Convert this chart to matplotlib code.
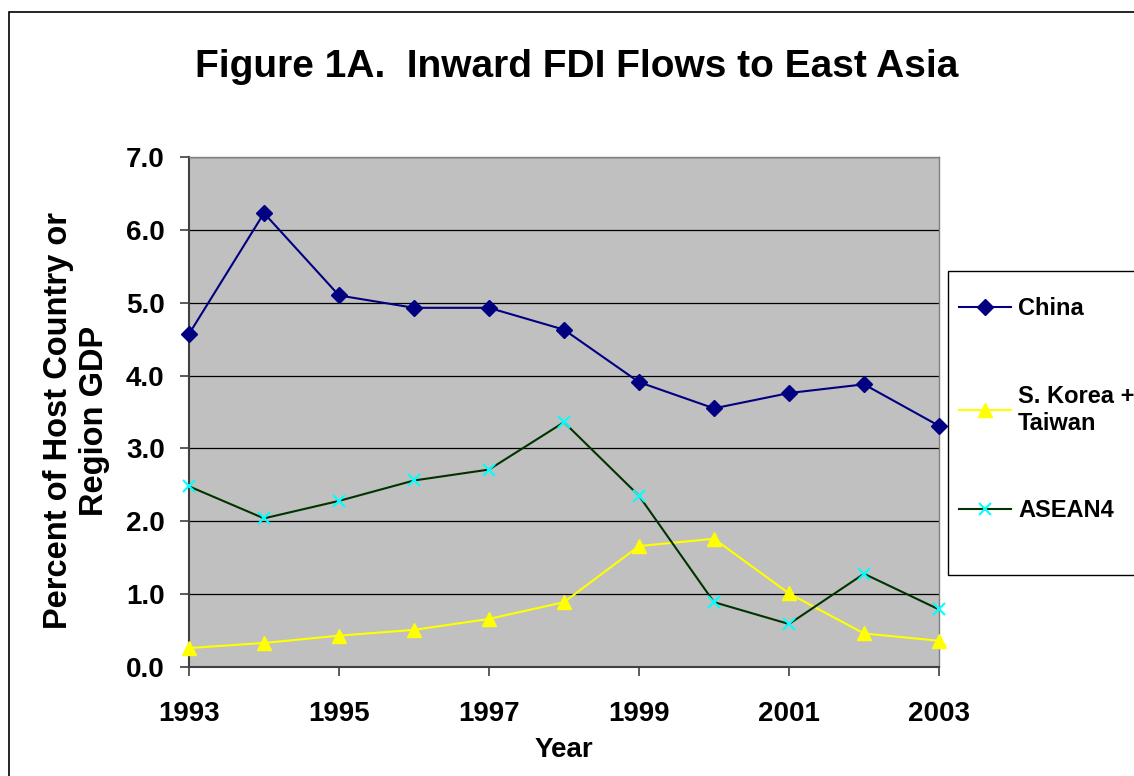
# Figure 1A - inward FDI flows to East Asia (percent of host GDP)
import matplotlib
matplotlib.use("Agg")
import matplotlib.pyplot as plt
from matplotlib.patches import Rectangle

# data
years = [1993, 1994, 1995, 1996, 1997, 1998, 1999, 2000, 2001, 2002, 2003]
china = [4.57, 6.23, 5.10, 4.93, 4.93, 4.63, 3.91, 3.55, 3.76, 3.88, 3.31]
korea_taiwan = [0.26, 0.33, 0.43, 0.51, 0.66, 0.89, 1.66, 1.76, 1.01, 0.46, 0.36]
asean4 = [2.48, 2.04, 2.28, 2.56, 2.71, 3.36, 2.35, 0.89, 0.59, 1.28, 0.79]
xticks = [1993, 1995, 1997, 1999, 2001, 2003]

plt.rcParams['font.family'] = ['Liberation Sans', 'DejaVu Sans']
plt.rcParams['font.weight'] = 'bold'

W, H = 1134, 776
fig = plt.figure(figsize=(W / 100, H / 100), dpi=100)

# outer chart frame (runs off the right / bottom edge like the original)
fig.patches.append(Rectangle((9 / W, -0.1), 1.2, 1 - 12 / H + 0.1, transform=fig.transFigure,
                             fill=False, edgecolor='black', linewidth=1.2, zorder=-2))

# legend box (right side cut off by the page edge), drawn under the axes artists
fig.patches.append(Rectangle((948 / W, 1 - 575 / H), 0.3, (575 - 271) / H,
                             transform=fig.transFigure, facecolor='white',
                             edgecolor='black', linewidth=1, zorder=-1))

# plot area
ax = fig.add_axes([189 / W, 1 - 667 / H, (939 - 189) / W, (667 - 157) / H])
ax.set_facecolor('#C0C0C0')

ax.plot(years, china, color='#000080', lw=1.5, marker='D', ms=8,
        mfc='#000080', mec='#000080', label='China', zorder=3, clip_on=False)
ax.plot(years, korea_taiwan, color='#FFFF00', lw=1.5, marker='^', ms=10,
        mfc='#FFFF00', mec='#FFFF00', label='S. Korea +\nTaiwan', zorder=3, clip_on=False)
ax.plot(years, asean4, color='#003300', lw=1.5, marker='x', ms=9, mew=1.5,
        mfc='#00FFFF', mec='#00FFFF', label='ASEAN4', zorder=4, clip_on=False)

ax.set_xlim(1993, 2003)
ax.set_ylim(0, 7)
ax.set_xticks(xticks)
ax.set_xticklabels([str(y) for y in xticks])
ax.set_yticks(range(0, 8))
ax.set_yticklabels(["%.1f" % v for v in range(0, 8)])
ax.yaxis.grid(True, color='black', lw=0.9)
ax.set_axisbelow(True)

ax.tick_params(axis='both', direction='out', length=6.5, width=1.2, color='#404040',
               labelsize=20)
ax.tick_params(axis='x', pad=18)
ax.tick_params(axis='y', pad=11)

for s in ['top', 'right']:
    ax.spines[s].set_color('#808080')
    ax.spines[s].set_linewidth(1)
for s in ['left', 'bottom']:
    ax.spines[s].set_color('#404040')
    ax.spines[s].set_linewidth(1.5)

ax.set_ylabel("Percent of Host Country or\nRegion GDP", fontsize=23.5, fontweight='bold',
              linespacing=1.2)
ax.yaxis.set_label_coords(-0.106, 0.483)
ax.set_xlabel("Year", fontsize=20, fontweight='bold')
ax.xaxis.set_label_coords(0.5, -0.137)

fig.text(576.5 / W, 1 - 77 / H, "Figure 1A.  Inward FDI Flows to East Asia",
         fontsize=28, fontweight='bold', ha='center', va='baseline')

leg = ax.legend(loc='upper left', bbox_to_anchor=(959 / W, 1 - 297 / H),
                bbox_transform=fig.transFigure, frameon=False, borderpad=0,
                borderaxespad=0, prop={'weight': 'bold', 'size': 17},
                handlelength=2.2, handletextpad=0.3, labelspacing=2.75)
leg.set_zorder(5)

plt.savefig("out.png", dpi=100)
